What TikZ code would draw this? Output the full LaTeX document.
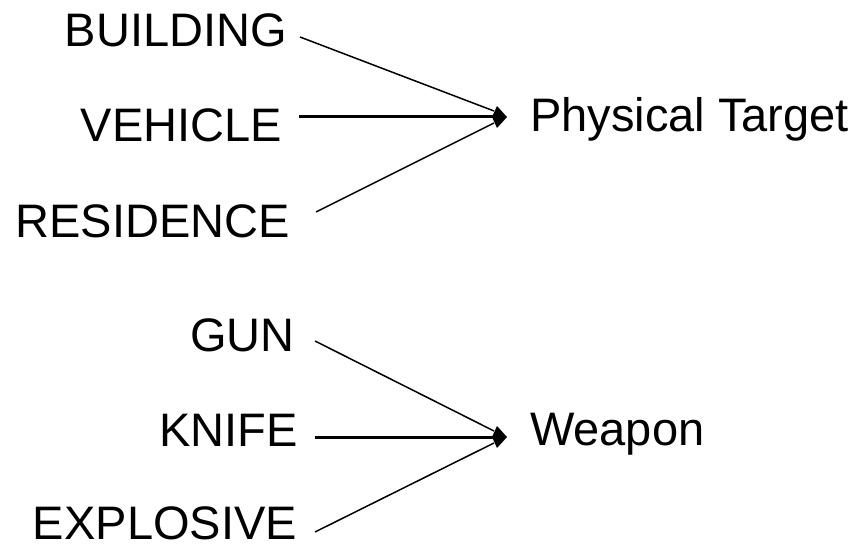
\documentclass[tikz,border=0pt]{standalone}
\usepackage{fontspec}
\setmainfont{Liberation Sans}
\usetikzlibrary{arrows.meta,calc}

\begin{document}
\begin{tikzpicture}[x=1pt,y=-1pt,
    lbl/.style={inner sep=0pt,font=\fontsize{47}{56}\selectfont},
    side/.style={line width=1.5pt},
    feed/.style={line width=3pt,-{Kite[length=15pt,width=22pt,inset=5pt]}}]
    \useasboundingbox (0,0) rectangle (862,545);

    % Physical target
    \node[lbl,anchor=base east] (building) at (287,47) {BUILDING};
    \node[lbl,anchor=base east] (vehicle) at (282,142) {VEHICLE};
    \node[lbl,anchor=base east] (residence) at (290,238) {RESIDENCE};
    \node[lbl,anchor=base west] (target) at (530,132) {Physical Target};
    \coordinate (tipA) at ($(target.base west)+(-23,-15)$);

    \draw[side] ($(building.base east)+(13,-10)$) -- ($(tipA)+(-13,-6)$);
    \draw[feed] ($(vehicle.base east)+(17,-25)$) -- (tipA);
    \draw[side] ($(residence.base east)+(26,-26)$) -- ($(tipA)+(-13,6)$);

    % Weapon
    \node[lbl,anchor=base east] (gun) at (295,351) {GUN};
    \node[lbl,anchor=base east] (knife) at (298,446) {KNIFE};
    \node[lbl,anchor=base east] (explosive) at (297,539) {EXPLOSIVE};
    \node[lbl,anchor=base west] (weapon) at (530,445) {Weapon};
    \coordinate (tipB) at ($(weapon.base west)+(-23,-8)$);

    \draw[side] ($(gun.base east)+(20,-10)$) -- ($(tipB)+(-13,-6)$);
    \draw[feed] ($(knife.base east)+(17,-9)$) -- (tipB);
    \draw[side] ($(explosive.base east)+(18,-7)$) -- ($(tipB)+(-13,6)$);
\end{tikzpicture}
\end{document}
